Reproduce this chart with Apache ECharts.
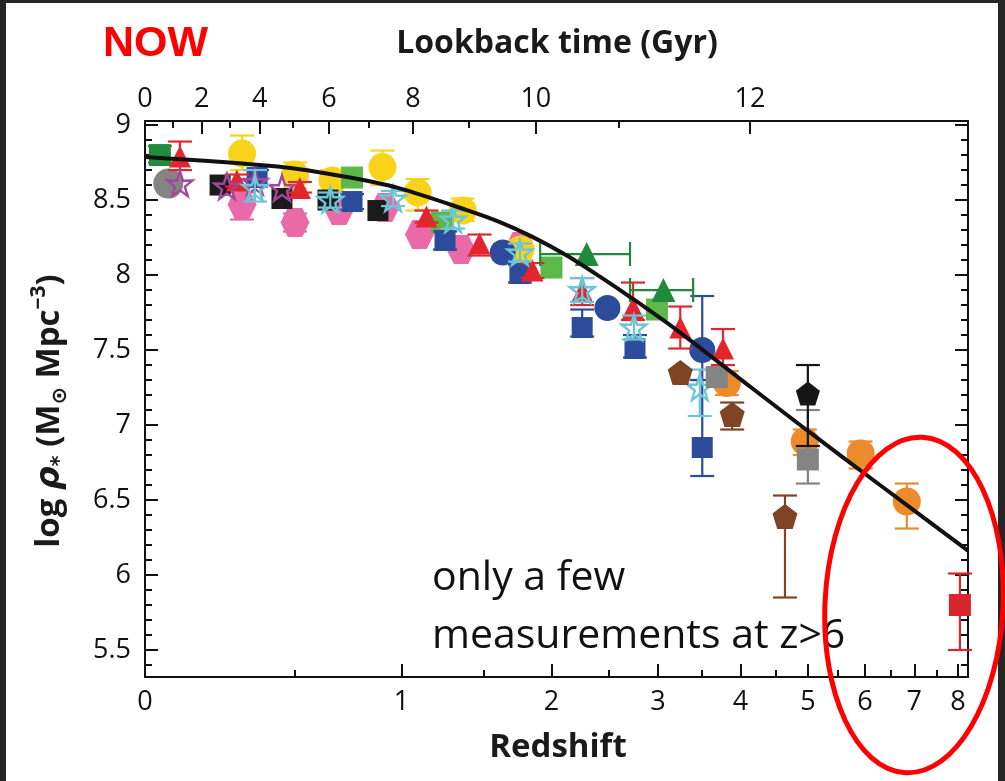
<!DOCTYPE html>
<html><head><meta charset="utf-8">
<script src="https://cdn.jsdelivr.net/npm/echarts@6/dist/echarts.min.js"></script>
<style>html,body{margin:0;padding:0;background:#fff}#c{width:1005px;height:781px}</style>
</head><body><div id="c"></div>
<script>
// ---- tick labels ----
const zTicks = [0, 1, 2, 3, 4, 5, 6, 7, 8];
const zMinorTicks = [0.5, 1.5, 2.5, 3.5, 4.5, 5.5, 6.5, 7.5];
const lookbackLabels = ['0', '2', '4', '6', '8', '10', '12'];
const lookbackZ = [0, 0.166, 0.364, 0.644, 1.064, 1.876, 4.13];
const lookbackMinorZ = [0.079, 0.258, 0.492, 0.833, 1.40, 2.60];
const yTicks = [5.5, 6, 6.5, 7, 7.5, 8, 8.5, 9];

// ---- fit curve (z, log rho*) ----
const curveZ = [0, 0.44, 0.72, 0.99, 1.387, 1.61, 1.854, 2.12, 2.42, 2.73, 3.21, 4.13, 4.98, 6.29, 8.247];
const curveV = [8.787, 8.722, 8.655, 8.578, 8.433, 8.353, 8.253, 8.133, 7.989, 7.845, 7.633, 7.257, 6.967, 6.60, 6.163];

// ---- measurements: [z, log rho*, lower, upper] ----
const yellowCircles = [[0.30, 8.81, 8.70, 8.93], [0.50, 8.67, 8.58, 8.75], [0.66, 8.63, 8.56, 8.70], [0.90, 8.72, 8.60, 8.83], [1.09, 8.55, 8.43, 8.64], [1.36, 8.43, 8.36, 8.51], [1.76, 8.17, 8.10, 8.23]];
const grayCircles = [[0.065, 8.61]];
const blueCircles = [[1.63, 8.15], [2.49, 7.78], [3.51, 7.50, 7.30, 7.86]];
const orangeCircles = [[3.82, 7.28, 7.20, 7.36], [4.95, 6.89, 6.80, 6.97], [5.92, 6.81, 6.71, 6.89], [6.84, 6.49, 6.31, 6.61]];
const blackSquares = [[0.225, 8.60], [0.448, 8.51], [0.64, 8.50], [0.877, 8.43]];
const darkGreenSquares = [[0.041, 8.80, 8.75, 8.86]];
const greenSquares = [[0.75, 8.65], [1.23, 8.35], [2.0, 8.05], [2.99, 7.77]];
const blueSquares = [[0.354, 8.65, 8.60, 8.70], [0.75, 8.49, 8.44, 8.54], [1.25, 8.23, 8.17, 8.29], [1.755, 8.01, 7.95, 8.07], [2.26, 7.65, 7.59, 7.77], [2.76, 7.51, 7.45, 7.60], [3.51, 6.85, 6.66, 7.30]];
const graySquares = [[3.69, 7.32], [5.0, 6.77, 6.61, 7.10]];
const redSquares = [[8.05, 5.80, 5.50, 6.01]];
const redTriangles = [[0.099, 8.79, 8.70, 8.89], [0.282, 8.63, 8.59, 8.67], [0.52, 8.58, 8.55, 8.62], [1.14, 8.39, 8.35, 8.43], [1.47, 8.21, 8.13, 8.27], [1.85, 8.03, 7.98, 8.08], [2.26, 7.89, 7.80, 7.98], [2.74, 7.78, 7.70, 7.95], [3.25, 7.65, 7.51, 7.79], [3.77, 7.51, 7.40, 7.64]];
const darkGreenTriangles = [[2.30, 8.14], [3.06, 7.90]];
const darkGreenTrianglesZRange = [[1.91, 2.71], [2.71, 3.40]];
const pinkHexagons = [[0.30, 8.47, 8.37, 8.55], [0.50, 8.35, 8.29, 8.41], [0.69, 8.43], [0.913, 8.45], [1.10, 8.27], [1.35, 8.17], [1.755, 8.19]];
const magentaStars = [[0.099, 8.61], [0.248, 8.59], [0.346, 8.62], [0.448, 8.58]];
const cyanStars = [[0.346, 8.58, 8.49, 8.70], [0.65, 8.50, 8.45, 8.55], [0.955, 8.51, 8.46, 8.56], [1.30, 8.37, 8.31, 8.43], [1.755, 8.15, 8.09, 8.21], [2.26, 7.90, 7.82, 7.98], [2.75, 7.65, 7.57, 7.73], [3.48, 7.25, 7.06, 7.37]];
const brownPentagons = [[3.25, 7.35], [3.89, 7.07, 6.97, 7.15], [4.64, 6.39, 5.85, 6.53]];
const blackPentagons = [[5.0, 7.21, 6.86, 7.40]];

// ---- symbols ----
const HEX = 'path://M25,6.7 L75,6.7 L100,50 L75,93.3 L25,93.3 L0,50 Z';
const PENT = 'path://M50,0 L100,38 L81,100 L19,100 L0,38 Z';
const STAR = 'path://M50,0 L61.8,35.1 L97.6,34.5 L68.8,56.2 L79.4,90.5 L50,70 L20.6,90.5 L31.2,56.2 L2.4,34.5 L38.2,35.1 Z';

const series = [];
let zc = 2;
function addSet(name, data, symbol, size, color, opts) {
  opts = opts || {};
  const zr = opts.zRange;
  const hasErr = data.some(d => d.length >= 4) || zr;
  if (hasErr) {
    series.push({
      type: 'custom', name: name + ' err', xAxisIndex: 0, yAxisIndex: 0, z: zc,
      silent: true, clip: false,
      data: data.map((d, i) => [1 + d[0], d[1],
        d.length >= 4 ? d[2] : NaN, d.length >= 4 ? d[3] : NaN,
        zr ? 1 + zr[i][0] : NaN, zr ? 1 + zr[i][1] : NaN]),
      encode: { x: 0, y: 1 },
      renderItem: function (params, api) {
        const x = api.value(0), y = api.value(1), lo = api.value(2), hi = api.value(3);
        const zl = api.value(4), zh = api.value(5);
        const ch = [];
        const st = { stroke: color, lineWidth: 2.2 };
        const cap = 12;
        if (!isNaN(lo) && !isNaN(hi)) {
          const p1 = api.coord([x, hi]), p2 = api.coord([x, lo]);
          ch.push({ type: 'line', shape: { x1: p1[0], y1: p1[1], x2: p2[0], y2: p2[1] }, style: st });
          ch.push({ type: 'line', shape: { x1: p1[0] - cap, y1: p1[1], x2: p1[0] + cap, y2: p1[1] }, style: st });
          ch.push({ type: 'line', shape: { x1: p2[0] - cap, y1: p2[1], x2: p2[0] + cap, y2: p2[1] }, style: st });
        }
        if (!isNaN(zl) && !isNaN(zh)) {
          const q1 = api.coord([zl, y]), q2 = api.coord([zh, y]);
          ch.push({ type: 'line', shape: { x1: q1[0], y1: q1[1], x2: q2[0], y2: q2[1] }, style: st });
          ch.push({ type: 'line', shape: { x1: q1[0], y1: q1[1] - cap, x2: q1[0], y2: q1[1] + cap }, style: st });
          ch.push({ type: 'line', shape: { x1: q2[0], y1: q2[1] - cap, x2: q2[0], y2: q2[1] + cap }, style: st });
        }
        return { type: 'group', children: ch };
      }
    });
  }
  const itemStyle = opts.outline
    ? { color: 'rgba(255,255,255,0)', borderColor: color, borderWidth: 2.4, opacity: 1 }
    : { color: color, opacity: 1 };
  series.push({
    type: 'scatter', name: name, xAxisIndex: 0, yAxisIndex: 0, z: zc + 1,
    data: data.map(d => [1 + d[0], d[1]]),
    symbol: symbol, symbolSize: size, itemStyle: itemStyle, silent: true
  });
  zc += 2;
}

addSet('Pink hexagons', pinkHexagons, HEX, 29, '#e96aa6');
addSet('Yellow circles', yellowCircles, 'circle', 28, '#f9d21a');
addSet('Gray circles', grayCircles, 'circle', 30, '#848484');
addSet('Dark green squares', darkGreenSquares, 'rect', 22, '#248b3e');
addSet('Green squares', greenSquares, 'rect', 22, '#5cb848');
addSet('Blue squares', blueSquares, 'rect', 21, '#2d4b9b');
addSet('Black squares', blackSquares, 'rect', 21, '#1b1b1b');
addSet('Blue circles', blueCircles, 'circle', 26, '#2d4b9b');
addSet('Red triangles', redTriangles, 'triangle', 22, '#e3262e');
addSet('Green triangles', darkGreenTriangles, 'triangle', 24, '#1f8a3b', { zRange: darkGreenTrianglesZRange });
addSet('Magenta stars', magentaStars, STAR, 25, '#a3479b', { outline: true });
addSet('Cyan stars', cyanStars, STAR, 25, '#6cc6d6', { outline: true });
addSet('Brown pentagons', brownPentagons, PENT, 25, '#7e4424');
addSet('Orange circles', orangeCircles, 'circle', 28, '#ec8a2c');
addSet('Gray squares', graySquares, 'rect', 22, '#848484');
addSet('Black pentagons', blackPentagons, PENT, 24, '#151515');
addSet('Red squares', redSquares, 'rect', 22, '#d9262e');

series.push({
  type: 'line', name: 'fit', xAxisIndex: 0, yAxisIndex: 0, z: 60,
  data: curveZ.map((z, i) => [1 + z, curveV[i]]),
  smooth: 0.3, symbol: 'none', silent: true,
  lineStyle: { color: '#111', width: 4 }
});

const AX = '#111';
const lblFont = { fontSize: 27, color: '#111', fontFamily: 'Open Sans' };
const xBase = { type: 'log', logBase: 10, min: 1, max: 9.25, splitLine: { show: false }, gridIndex: 0 };
const yBase = { type: 'value', min: 5.32, max: 9.027, splitLine: { show: false }, gridIndex: 0 };
const lineOn = { show: true, onZero: false, lineStyle: { color: AX, width: 2 } };
const minorTick = (vals) => ({ show: true, inside: true, length: 7, lineStyle: { color: AX, width: 2 }, customValues: vals });
const majorTick = (vals) => ({ show: true, inside: true, length: 13, lineStyle: { color: AX, width: 2 }, customValues: vals });
const yMinor = [];
for (let v = 54; v <= 90; v++) { if (v % 5 !== 0) yMinor.push(v / 10); }

const option = {
  animation: false,
  backgroundColor: '#ffffff',
  grid: { left: 145, right: 37, top: 121, bottom: 104, containLabel: false },
  xAxis: [
    Object.assign({}, xBase, {
      position: 'bottom', axisLine: lineOn, axisTick: majorTick(zTicks.map(z => 1 + z)),
      axisLabel: Object.assign({ show: true, margin: 12, customValues: zTicks.map(z => 1 + z),
        formatter: v => String(Math.round(v - 1)) }, lblFont)
    }),
    Object.assign({}, xBase, {
      position: 'bottom', axisLine: { show: false }, axisTick: minorTick(zMinorTicks.map(z => 1 + z)),
      axisLabel: { show: false }
    }),
    Object.assign({}, xBase, {
      position: 'top', axisLine: lineOn, axisTick: majorTick(lookbackZ.map(z => 1 + z)),
      axisLabel: Object.assign({ show: true, margin: 8, customValues: lookbackZ.map(z => 1 + z),
        formatter: v => { let b = 0, d = 1e9; lookbackZ.forEach((z, i) => { const e = Math.abs(1 + z - v); if (e < d) { d = e; b = i; } }); return lookbackLabels[b]; } }, lblFont)
    }),
    Object.assign({}, xBase, {
      position: 'top', axisLine: { show: false }, axisTick: minorTick(lookbackMinorZ.map(z => 1 + z)),
      axisLabel: { show: false }
    })
  ],
  yAxis: [
    Object.assign({}, yBase, {
      position: 'left', axisLine: lineOn, axisTick: majorTick(yTicks),
      axisLabel: Object.assign({ show: true, margin: 14, customValues: yTicks, formatter: v => String(v) }, lblFont)
    }),
    Object.assign({}, yBase, { position: 'left', axisLine: { show: false }, axisTick: minorTick(yMinor), axisLabel: { show: false } }),
    Object.assign({}, yBase, { position: 'right', axisLine: lineOn, axisTick: majorTick(yTicks), axisLabel: { show: false } }),
    Object.assign({}, yBase, { position: 'right', axisLine: { show: false }, axisTick: minorTick(yMinor), axisLabel: { show: false } })
  ],
  series: series,
  graphic: [
    { type: 'rect', shape: { x: 0, y: 0, width: 6, height: 781 }, style: { fill: '#262626' }, z: 200 },
    { type: 'rect', shape: { x: 0, y: 0, width: 1005, height: 3 }, style: { fill: '#262626' }, z: 200 },
    { type: 'rect', shape: { x: 998, y: 0, width: 7, height: 781 }, style: { fill: '#262626' }, z: 200 },
    { type: 'text', x: 103, y: 44, z: 200, style: { text: 'NOW', fill: '#ff0000', fontSize: 43, fontWeight: 'bold', fontFamily: 'Liberation Sans', align: 'left', verticalAlign: 'middle' } },
    { type: 'text', x: 557, y: 44, z: 200, style: { text: 'Lookback time (Gyr)', fill: '#1a1a1a', fontSize: 32, fontWeight: 'bold', fontFamily: 'Open Sans', align: 'center', verticalAlign: 'middle' } },
    { type: 'text', x: 558, y: 748, z: 200, style: { text: 'Redshift', fill: '#1a1a1a', fontSize: 33, fontWeight: 'bold', fontFamily: 'Open Sans', align: 'center', verticalAlign: 'middle' } },
    { type: 'text', x: 50, y: 411, rotation: Math.PI / 2, z: 200, style: {
        text: '{b|log }{i|ρ}{sub|*}{b| (M}{sub|⊙}{b| Mpc}{sup|−3}{b|)}',
        fill: '#1a1a1a', align: 'center', verticalAlign: 'middle',
        rich: {
          b: { fontSize: 33, fontWeight: 'bold', fontFamily: 'Open Sans', fill: '#1a1a1a', lineHeight: 42 },
          i: { fontSize: 33, fontWeight: 'bold', fontStyle: 'italic', fontFamily: 'DejaVu Sans', fill: '#1a1a1a', lineHeight: 42 },
          sub: { fontSize: 21, fontWeight: 'bold', fontFamily: 'DejaVu Sans', fill: '#1a1a1a', lineHeight: 42, verticalAlign: 'bottom' },
          sup: { fontSize: 21, fontWeight: 'bold', fontFamily: 'Open Sans', fill: '#1a1a1a', lineHeight: 42, verticalAlign: 'top' }
        } } },
    { type: 'text', x: 432, y: 549, z: 200, style: { text: 'only a few\nmeasurements at z>6', fill: '#111', fontSize: 41, fontFamily: 'Open Sans', lineHeight: 58, align: 'left', verticalAlign: 'top' } },
    { type: 'ellipse', z: 300, originX: 914, originY: 605, rotation: -0.05, shape: { cx: 914, cy: 605, rx: 89, ry: 168 }, style: { fill: 'none', stroke: '#ff0000', lineWidth: 5 } }
  ]
};

const chart = echarts.init(document.getElementById('c'), null, { renderer: 'canvas' });
chart.setOption(option);
</script>
</body></html>
